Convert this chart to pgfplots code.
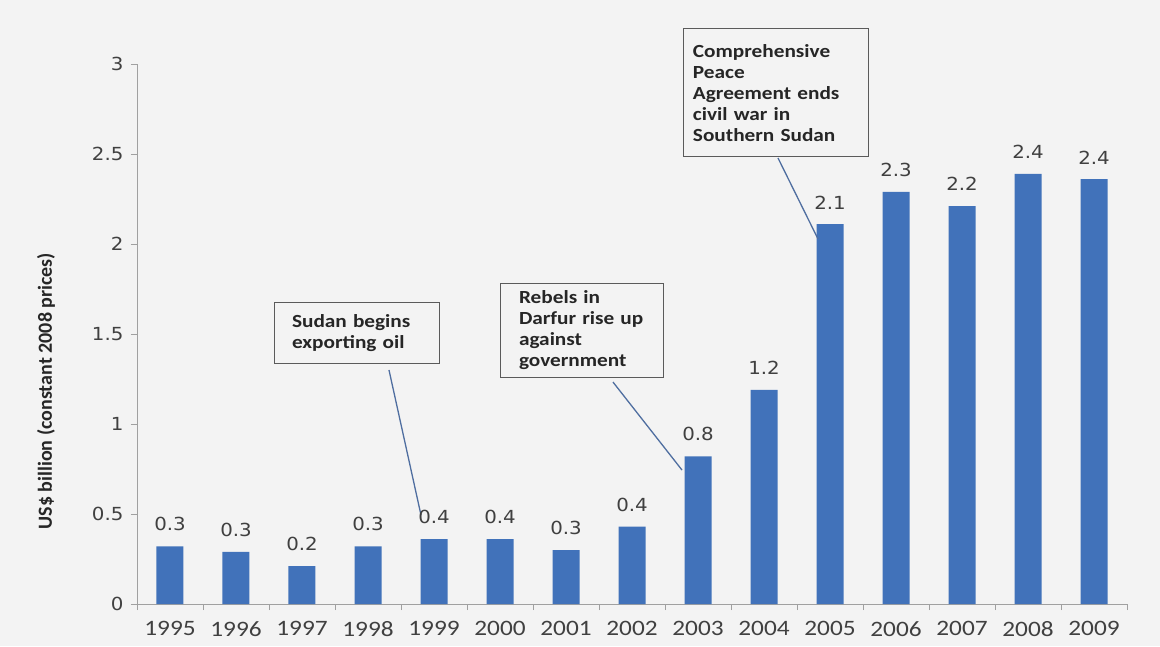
\documentclass[border=0pt]{standalone}
\usepackage{fontspec}
\setmainfont{Carlito}
\newfontfamily\numfont[FakeStretch=1.1]{DejaVu Sans}
\newfontfamily\calfont[FakeStretch=1.15]{Carlito}
\usepackage{pgfplots}
\pgfplotsset{compat=1.18}
\definecolor{bg}{RGB}{243,243,243}
\definecolor{barblue}{RGB}{65,114,186}
\definecolor{axgray}{RGB}{160,160,160}
\definecolor{txt}{RGB}{64,64,64}
\definecolor{conn}{RGB}{79,110,160}
\definecolor{boxborder}{RGB}{90,90,90}
\begin{document}
\begin{tikzpicture}
\path[use as bounding box, fill=bg] (-137pt,-42pt) rectangle (1023pt,604pt);
\begin{axis}[
  at={(0,0)}, anchor=south west,
  width=990pt, height=540pt, scale only axis,
  xmin=-0.5, xmax=14.5, ymin=0, ymax=3,
  enlargelimits=false, clip=false,
  axis x line*=bottom, axis y line*=left,
  axis line style={draw=axgray, line width=0.9pt},
  tick align=outside,
  major tick length=0pt, minor tick length=6pt,
  tick style={draw=axgray, line width=0.9pt},
  xtick={0,...,14},
  xticklabels={1995,1996,1997,1998,1999,2000,2001,2002,2003,2004,2005,2006,2007,2008,2009},
  minor xtick={-0.5,0.5,...,14.5},
  ytick={0,0.5,...,3},
  minor ytick={0,0.5,...,3},
  xticklabel style={font=\calfont\fontsize{22}{24}\selectfont, text=txt, yshift=-14pt},
  yticklabel style={font=\numfont\fontsize{18}{20}\selectfont, text=txt, xshift=-10pt},
  /pgf/number format/assume math mode=true,
  ylabel={US\$ billion (constant 2008 prices)},
  ylabel style={at={(axis description cs:-0.092,0.394)}, anchor=center, font=\bfseries\fontsize{20}{22}\selectfont, text=black!85},
  ybar, bar width=27pt,
  nodes near coords={\pgfmathprintnumber[fixed,fixed zerofill,precision=1,assume math mode=true]{\pgfplotspointmeta}},
  every node near coord/.append style={font=\numfont\fontsize{18}{20}\selectfont, text=txt, anchor=south, inner sep=0pt, yshift=15pt},
]
\addplot[fill=barblue, draw=none] coordinates {
 (0,0.32) (1,0.29) (2,0.21) (3,0.32) (4,0.36) (5,0.36) (6,0.30) (7,0.43)
 (8,0.82) (9,1.19) (10,2.11) (11,2.29) (12,2.21) (13,2.39) (14,2.36)};

\draw[conn, line width=1.3pt] (axis cs:3.318,1.30) -- (axis cs:3.803,0.494);
\draw[conn, line width=1.3pt] (axis cs:6.712,1.233) -- (axis cs:7.758,0.744);
\draw[conn, line width=1.3pt] (axis cs:9.212,2.478) -- (axis cs:9.818,2.028);

\node[draw=boxborder, fill=bg, line width=1pt, minimum width=165pt, minimum height=61pt,
  inner xsep=18pt, text width=129pt, align=left, text=black!85,
  font=\calfont\bfseries\fontsize{18.5}{21}\selectfont] at (axis cs:2.826,1.503)
  {Sudan begins\\exporting oil};
\node[draw=boxborder, fill=bg, line width=1pt, minimum width=163pt, minimum height=94pt,
  inner xsep=19pt, text width=125pt, align=left, text=black!85,
  font=\calfont\bfseries\fontsize{18.5}{21}\selectfont] at (axis cs:6.235,1.522)
  {Rebels in\\Darfur rise up\\against\\government};
\node[draw=boxborder, fill=bg, line width=1pt, minimum width=185pt, minimum height=128pt,
  inner xsep=9pt, text width=167pt, align=left, text=black!85,
  font=\calfont\bfseries\fontsize{18.5}{21}\selectfont] at (axis cs:9.189,2.839)
  {Comprehensive\\Peace\\Agreement ends\\civil war in\\Southern Sudan};
\end{axis}
\end{tikzpicture}
\end{document}
